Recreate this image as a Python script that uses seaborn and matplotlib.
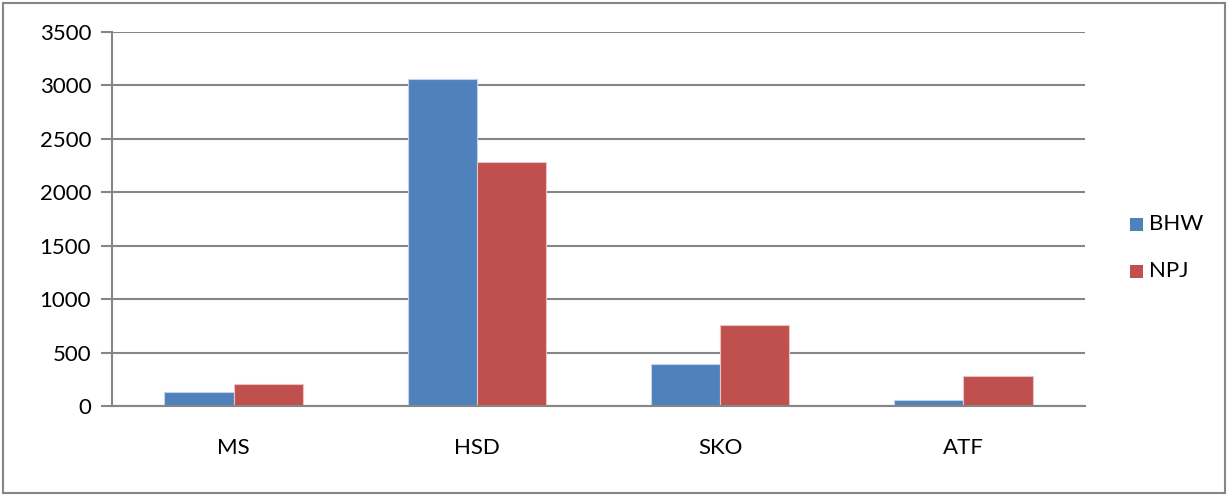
import matplotlib
matplotlib.use("Agg")
import matplotlib.pyplot as plt
from matplotlib.patches import Rectangle
import seaborn as sns
import pandas as pd

categories = ["MS", "HSD", "SKO", "ATF"]
bhw = [131, 3057, 393, 52]
npj = [206, 2283, 761, 280]
series_names = ["BHW", "NPJ"]
y_ticks = [0, 500, 1000, 1500, 2000, 2500, 3000, 3500]

df = pd.DataFrame({
    "cat": categories * 2,
    "val": bhw + npj,
    "series": [series_names[0]] * 4 + [series_names[1]] * 4,
})

sns.set_theme(style="white")
plt.rcParams["font.family"] = ["Lato", "DejaVu Sans"]

grey = "#868686"
colors = {"BHW": "#4F81BD", "NPJ": "#C0504D"}
fs = 16

fig = plt.figure(figsize=(12.28, 4.95), dpi=100)
ax = fig.add_axes([112 / 1228, 1 - 406 / 495, (1085 - 112) / 1228, (406 - 32) / 495])

sns.barplot(data=df, x="cat", y="val", hue="series", order=categories,
            hue_order=series_names, palette=colors, width=0.57, gap=0,
            saturation=1, ax=ax, legend=False, linewidth=0.8)
for p in ax.patches:
    fc = p.get_facecolor()
    p.set_edgecolor(tuple(min(1, c * 0.35 + 0.65) for c in fc[:3]))

ax.set_xlim(-0.5, 3.5)
ax.set_ylim(0, 3500)
ax.set_yticks(y_ticks)
ax.set_yticklabels([str(t) for t in y_ticks], fontsize=fs, color="#000000")
ax.yaxis.grid(True, color=grey, linewidth=1.5)
ax.set_axisbelow(True)

ax.set_xticks(range(len(categories)))
ax.set_xticklabels(categories, fontsize=fs, color="#000000")
ax.set_xticks([i - 0.5 for i in range(len(categories) + 1)], minor=True)
ax.tick_params(axis="x", which="major", length=0, pad=23)
ax.tick_params(axis="x", which="minor", length=8, width=1.5, color=grey, direction="out")
ax.tick_params(axis="y", which="major", length=8, width=1.5, color=grey, direction="out", pad=7, left=True)
ax.set_xlabel("")
ax.set_ylabel("")

for side in ["top", "right"]:
    ax.spines[side].set_visible(False)
for side in ["left", "bottom"]:
    ax.spines[side].set_color(grey)
    ax.spines[side].set_linewidth(1.5)

# legend drawn at the right of the plot
for i, name in enumerate(series_names):
    y = 1 - (224 + 47 * i) / 495
    fig.patches.append(Rectangle((1130 / 1228, y - 6.5 / 495), 13 / 1228, 13 / 495,
                                 transform=fig.transFigure, facecolor=colors[name],
                                 edgecolor="none"))
    fig.text(1149 / 1228, y, name, fontsize=fs, va="center", ha="left", color="#000000")

# outer chart border
fig.patches.append(Rectangle((3 / 1228, 2 / 495), 1222 / 1228, 490 / 495,
                             transform=fig.transFigure, facecolor="none",
                             edgecolor=grey, linewidth=1.5))

fig.savefig("out.png", dpi=100)
